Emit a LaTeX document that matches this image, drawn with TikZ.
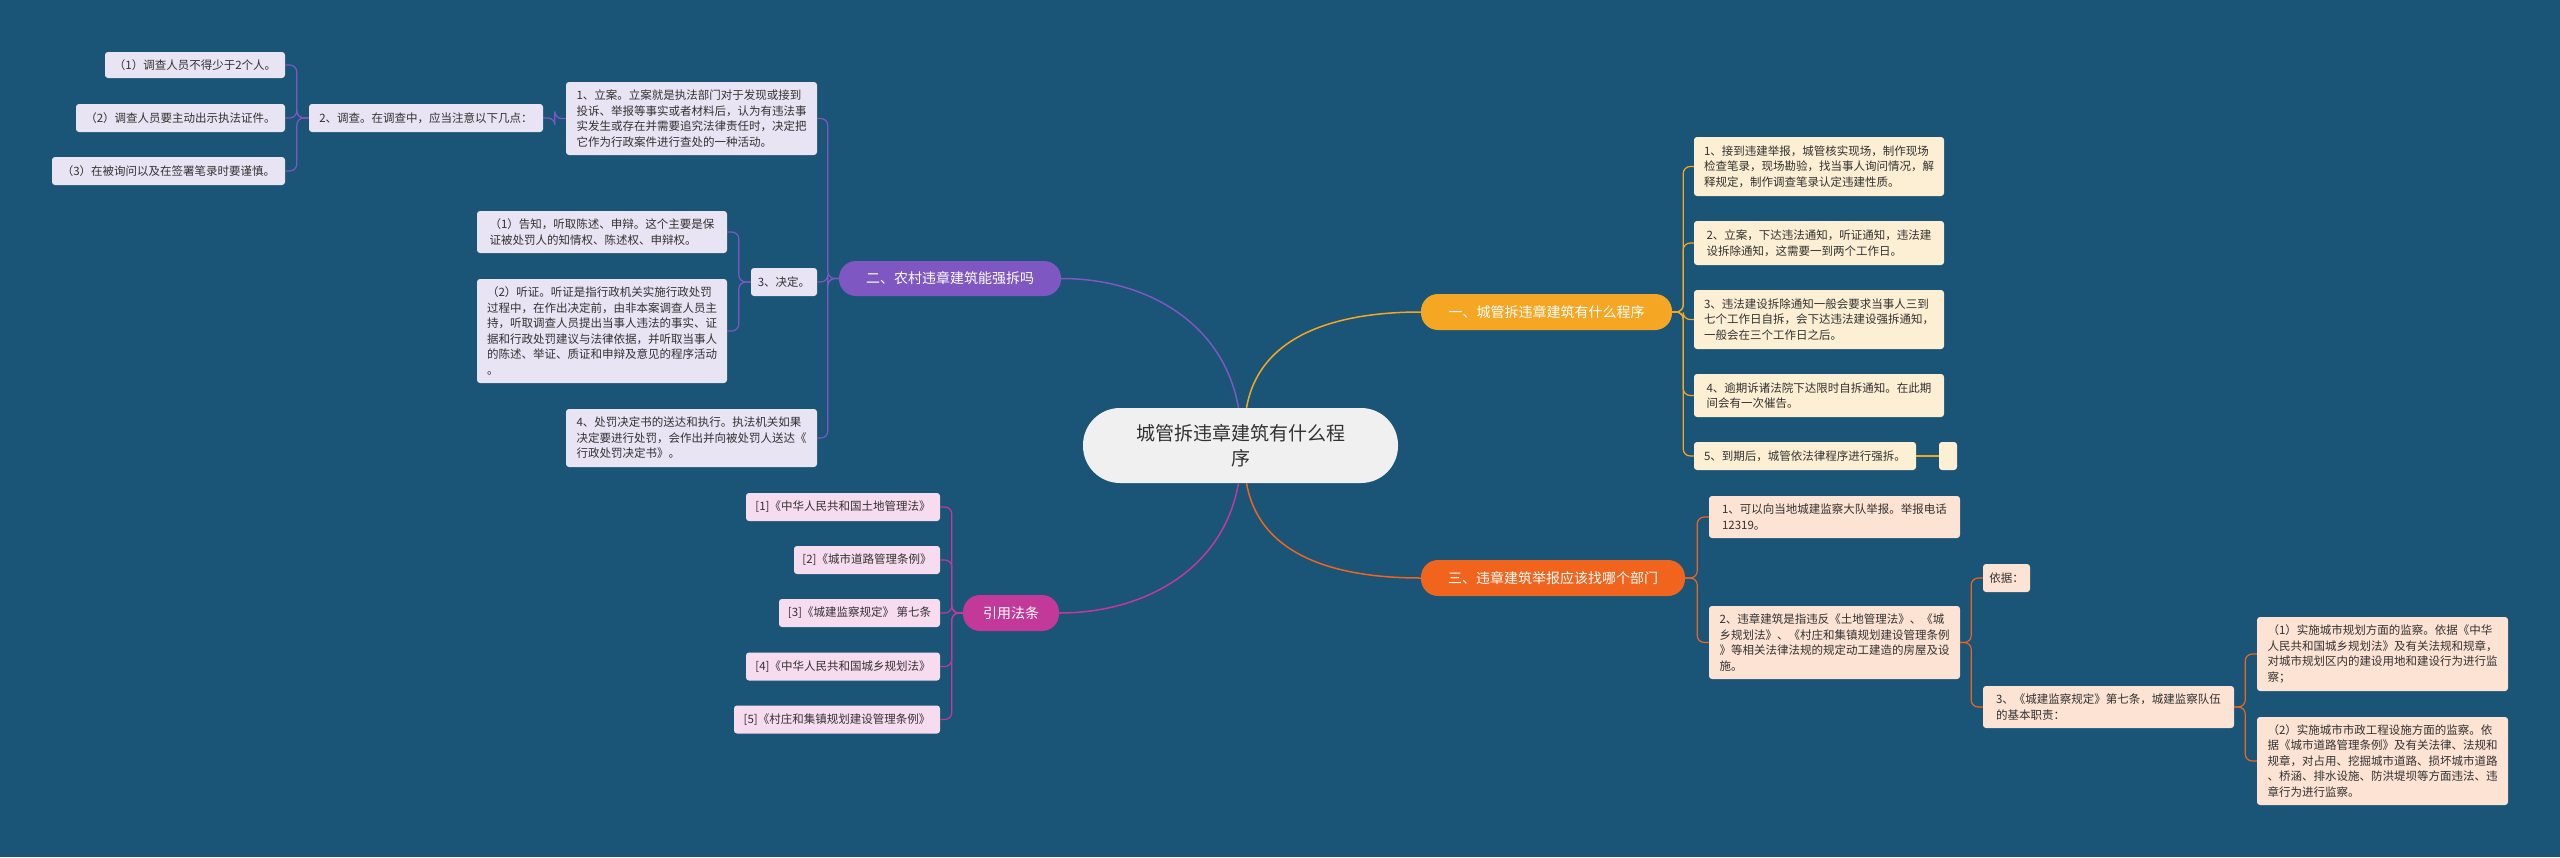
\documentclass[tikz,border=0pt]{standalone}
\usepackage{fontspec}
\setmainfont{Noto Sans CJK SC}
\XeTeXlinebreaklocale "zh"
\XeTeXlinebreakskip=0pt plus 1pt
\definecolor{bg}{RGB}{26,84,118}
\definecolor{pc}{RGB}{126,87,194}\definecolor{pf}{RGB}{232,228,243}
\definecolor{yc}{RGB}{245,166,35}\definecolor{yf}{RGB}{253,239,211}
\definecolor{oc}{RGB}{240,100,30}\definecolor{of}{RGB}{253,227,211}
\definecolor{mc}{RGB}{194,57,154}\definecolor{mf}{RGB}{247,220,239}
\definecolor{tx}{RGB}{50,50,50}
\begin{document}
\begin{tikzpicture}[x=1pt,y=-1pt,
  bx/.style={rounded corners=3pt,align=left,inner xsep=6pt,inner ysep=3pt,font=\fontsize{11.5}{15.5}\selectfont,text=tx},
  pb/.style={bx,fill=pf},yb/.style={bx,fill=yf},ob/.style={bx,fill=of},mb/.style={bx,fill=mf},
  br/.style={rounded corners=17pt,text=white,font=\fontsize{14}{17}\selectfont,align=center},
  pl/.style={draw=pc,line width=1.2pt,rounded corners=7pt},
  yl/.style={draw=yc,line width=1.2pt,rounded corners=7pt},
  ol/.style={draw=oc,line width=1.2pt,rounded corners=7pt},
  ml/.style={draw=mc,line width=1.2pt,rounded corners=7pt}]
\fill[bg] (0,0) rectangle (2560,857);
\useasboundingbox (0,0) rectangle (2560,857);
% center
\node[fill=white!94!black,rounded corners=37pt,minimum width=315pt,minimum height=75pt,align=center,font=\fontsize{19}{25}\selectfont,text=tx] (C) at (1240.5,445.5) {城管拆违章建筑有什么程\\序};
% branches
\node[br,fill=yc,minimum width=251pt,minimum height=36pt] (B1) at (1546.5,312) {一、城管拆违章建筑有什么程序};
\node[br,fill=pc,minimum width=222pt,minimum height=35pt] (B2) at (950,278.5) {二、农村违章建筑能强拆吗};
\node[br,fill=oc,minimum width=264pt,minimum height=36pt] (B3) at (1553,578) {三、违章建筑举报应该找哪个部门};
\node[br,fill=mc,minimum width=96pt,minimum height=36pt] (B4) at (1011,613) {引用法条};
% purple
\node[pb,minimum width=180pt,minimum height=26pt] (p1a) at (195,65) {（1）调查人员不得少于2个人。};
\node[pb,minimum width=209pt,minimum height=28pt] (p1b) at (180.5,118) {（2）调查人员要主动出示执法证件。};
\node[pb,minimum width=233pt,minimum height=28pt] (p1c) at (168.5,171) {（3）在被询问以及在签署笔录时要谨慎。};
\node[pb,minimum width=234pt,minimum height=28pt] (p2) at (426,118) {2、调查。在调查中，应当注意以下几点：};
\node[pb,minimum width=251pt,minimum height=73pt] (p1) at (691.5,118.5) {1、立案。立案就是执法部门对于发现或接到\\投诉、举报等事实或者材料后，认为有违法事\\实发生或存在并需要追究法律责任时，决定把\\它作为行政案件进行查处的一种活动。};
\node[pb,minimum width=250pt,minimum height=42pt] (pd1) at (602,232) {（1）告知，听取陈述、申辩。这个主要是保\\证被处罚人的知情权、陈述权、申辩权。};
\node[pb,minimum width=250pt,minimum height=104pt] (pd2) at (602,331) {（2）听证。听证是指行政机关实施行政处罚\\过程中，在作出决定前，由非本案调查人员主\\持，听取调查人员提出当事人违法的事实、证\\据和行政处罚建议与法律依据，并听取当事人\\的陈述、举证、质证和申辩及意见的程序活动\\。};
\node[pb,minimum width=66pt,minimum height=28pt] (p3) at (784,282) {3、决定。};
\node[pb,minimum width=251pt,minimum height=58pt] (p4) at (691.5,438) {4、处罚决定书的送达和执行。执法机关如果\\决定要进行处罚，会作出并向被处罚人送达《\\行政处罚决定书》。};
% yellow
\node[yb,minimum width=250pt,minimum height=59pt] (y1) at (1819,166.5) {1、接到违建举报，城管核实现场，制作现场\\检查笔录，现场勘验，找当事人询问情况，解\\释规定，制作调查笔录认定违建性质。};
\node[yb,minimum width=250pt,minimum height=44pt] (y2) at (1819,243) {2、立案，下达违法通知，听证通知，违法建\\设拆除通知，这需要一到两个工作日。};
\node[yb,minimum width=250pt,minimum height=59pt] (y3) at (1819,319.5) {3、违法建设拆除通知一般会要求当事人三到\\七个工作日自拆，会下达违法建设强拆通知，\\一般会在三个工作日之后。};
\node[yb,minimum width=250pt,minimum height=43pt] (y4) at (1819,395.5) {4、逾期诉诸法院下达限时自拆通知。在此期\\间会有一次催告。};
\node[yb,minimum width=222pt,minimum height=28pt] (y5) at (1805,456) {5、到期后，城管依法律程序进行强拆。};
\node[yb,minimum width=18pt,minimum height=28pt,inner xsep=0pt] (y6) at (1948,456) {};
% orange
\node[ob,minimum width=251pt,minimum height=42pt] (o1) at (1834.5,517) {1、可以向当地城建监察大队举报。举报电话\\12319。};
\node[ob,minimum width=251pt,minimum height=73pt] (o2) at (1834.5,642.5) {2、违章建筑是指违反《土地管理法》、《城\\乡规划法》、《村庄和集镇规划建设管理条例\\》等相关法律法规的规定动工建造的房屋及设\\施。};
\node[ob,minimum width=47pt,minimum height=28pt] (oy) at (2006.5,578) {依据：};
\node[ob,minimum width=251pt,minimum height=42pt] (o3) at (2108.5,707) {3、《城建监察规定》第七条，城建监察队伍\\的基本职责：};
\node[ob,minimum width=251pt,minimum height=74pt] (o31) at (2382.5,654) {（1）实施城市规划方面的监察。依据《中华\\人民共和国城乡规划法》及有关法规和规章，\\对城市规划区内的建设用地和建设行为进行监\\察；};
\node[ob,minimum width=251pt,minimum height=88pt] (o32) at (2382.5,761) {（2）实施城市市政工程设施方面的监察。依\\据《城市道路管理条例》及有关法律、法规和\\规章，对占用、挖掘城市道路、损坏城市道路\\、桥涵、排水设施、防洪堤坝等方面违法、违\\章行为进行监察。};
% magenta
\node[mb,minimum width=194pt,minimum height=28pt] (m1) at (843,507) {[1]《中华人民共和国土地管理法》};
\node[mb,minimum width=146pt,minimum height=28pt] (m2) at (867,560) {[2]《城市道路管理条例》};
\node[mb,minimum width=161pt,minimum height=28pt] (m3) at (859.5,613) {[3]《城建监察规定》 第七条};
\node[mb,minimum width=194pt,minimum height=28pt] (m4) at (843,666.5) {[4]《中华人民共和国城乡规划法》};
\node[mb,minimum width=206pt,minimum height=28pt] (m5) at (837,719.5) {[5]《村庄和集镇规划建设管理条例》};
% center links
\draw[yc,line width=1.5pt] ([xshift=6pt]C.north) to[out=80,in=180] (B1.west);
\draw[pc,line width=1.5pt] ([xshift=-2pt]C.north) to[out=100,in=0] (B2.east);
\draw[oc,line width=1.5pt] ([xshift=6pt]C.south) to[out=-80,in=180] (B3.west);
\draw[mc,line width=1.5pt] ([xshift=-2pt]C.south) to[out=-100,in=0] (B4.east);
% branch links
\foreach \c in {y1,y2,y3,y4,y5} \path[yl] (B1.east) -- ++(11,0) |- (\c.west);
\draw[yc,line width=1.2pt] (y5.east) -- (y6.west);
\foreach \c in {p1,p3,p4} \path[pl] (B2.west) -- ++(-11,0) |- (\c.east);
\path[pl] (p1.west) -- ++(-11,0) |- (p2.east);
\foreach \c in {p1a,p1b,p1c} \path[pl] (p2.west) -- ++(-12,0) |- (\c.east);
\foreach \c in {pd1,pd2} \path[pl] (p3.west) -- ++(-12,0) |- (\c.east);
\foreach \c in {o1,o2} \path[ol] (B3.east) -- ++(12,0) |- (\c.west);
\foreach \c in {oy,o3} \path[ol] (o2.east) -- ++(11,0) |- (\c.west);
\foreach \c in {o31,o32} \path[ol] (o3.east) -- ++(11,0) |- (\c.west);
\foreach \c in {m1,m2,m3,m4,m5} \path[ml] (B4.west) -- ++(-11,0) |- (\c.east);
\end{tikzpicture}
\end{document}
